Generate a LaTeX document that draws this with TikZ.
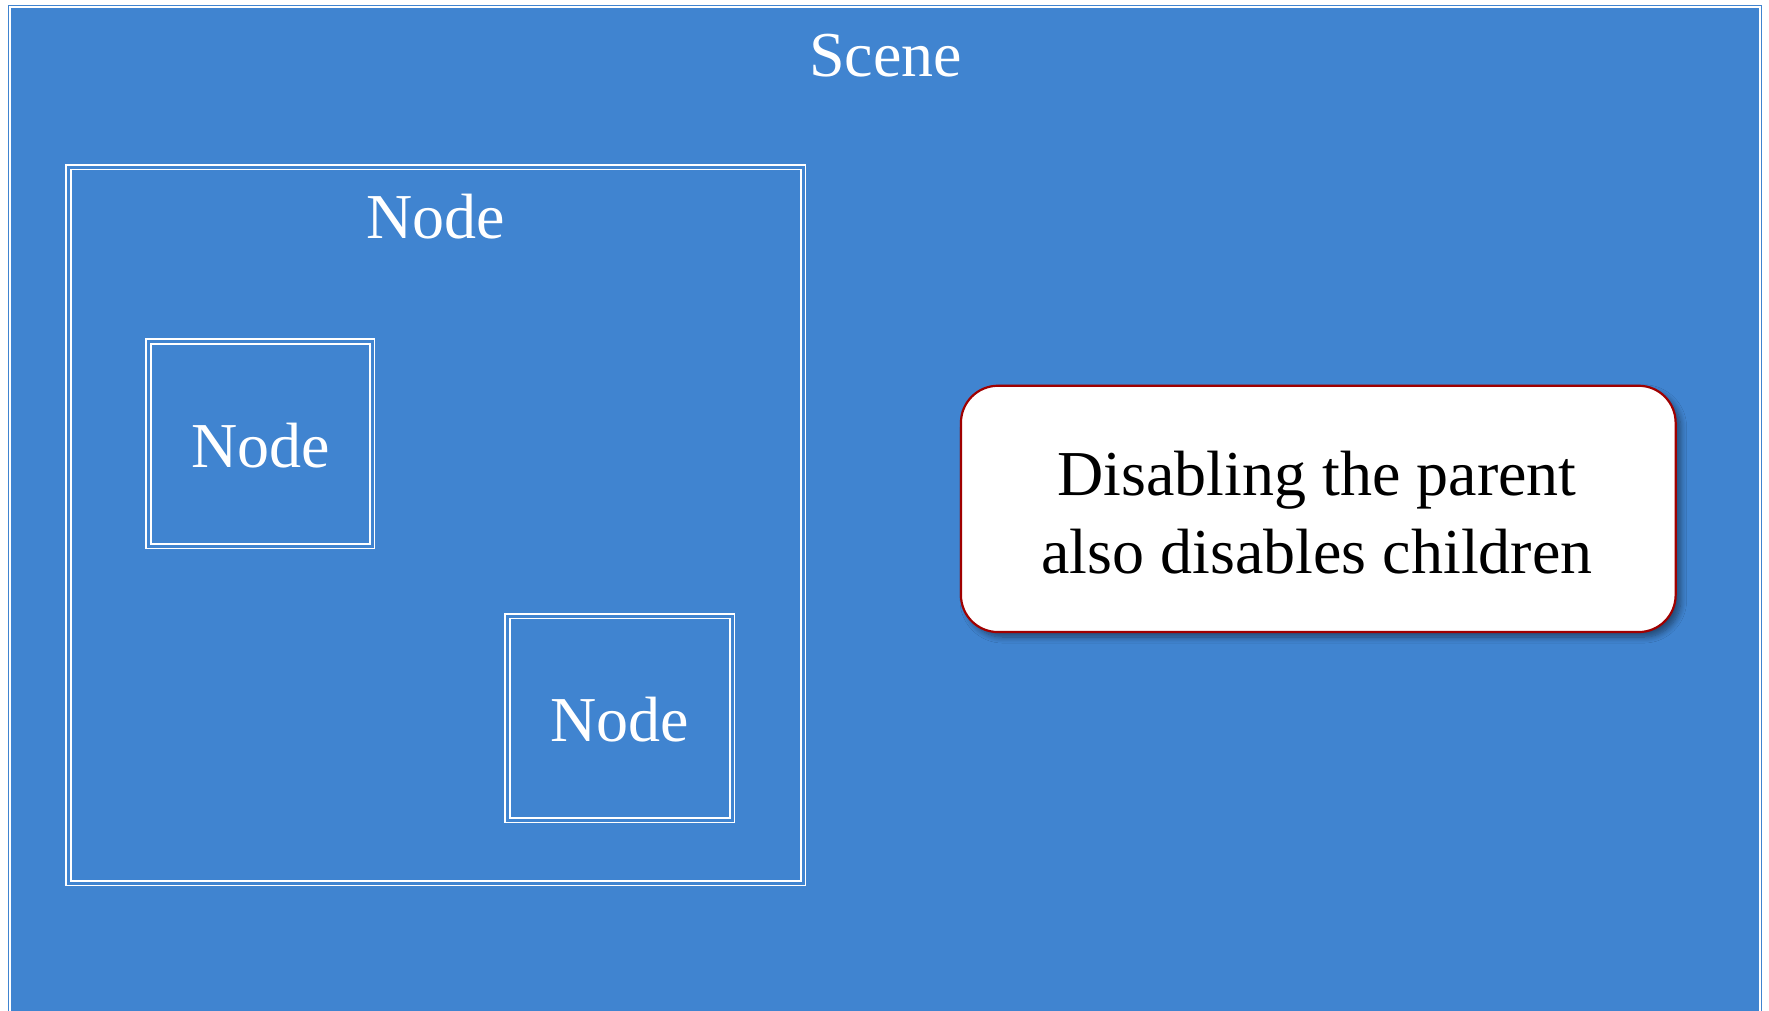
\documentclass[tikz,border=0pt]{standalone}
\usepackage{fontspec}
\setmainfont{Liberation Serif}
\usetikzlibrary{shadows.blur}
\definecolor{scenecol}{RGB}{64,132,208}
\definecolor{callred}{RGB}{160,0,0}
\tikzset{
  px/.style={x=0.5pt,y=-0.5pt},
  nodebox/.style={draw=white, double=scenecol, double distance=1.5pt, line width=0.8pt, inner sep=0pt, rectangle},
  whitelabel/.style={text=white, font=\fontsize{32}{39}\selectfont, inner sep=0pt, anchor=base},
  callout/.style={draw=callred, line width=1.1pt, fill=white, rounded corners=18.5pt, inner sep=0pt,
    blur shadow={shadow xshift=2.5pt, shadow yshift=-2.5pt, shadow blur steps=8, shadow opacity=45, shadow blur radius=3pt}},
  callouttext/.style={align=center, font=\fontsize{32}{39}\selectfont, inner sep=0pt},
}
\begin{document}
\begin{tikzpicture}[px]
\useasboundingbox (0,0) rectangle (1769,1011);
\clip (0,0) rectangle (1769,1011);
% scene
\fill[scenecol] (8,5) rectangle (1762,1040);
\draw[white, line width=1pt] (10,1040) |- (1760,7) -- (1760,1040);
\node[whitelabel] (scenelabel) at (885.5,76.5) {Scene};
% parent node
\node[nodebox, minimum width=367.25pt, minimum height=357.9pt] (parent) at (435.75,525.1) {};
\node[whitelabel] (parentlabel) at (435.5,239) {Node};
% child nodes
\node[nodebox, minimum width=111.9pt, minimum height=102.35pt] (childa) at (260.4,443.85) {};
\node[whitelabel] (childalabel) at (260.6,467) {Node};
\node[nodebox, minimum width=112.4pt, minimum height=102pt] (childb) at (619.9,718.3) {};
\node[whitelabel] (childblabel) at (619.5,741) {Node};
% callout
\node[callout, minimum width=357.35pt, minimum height=123.15pt] (note) at (1318.3,508.9) {};
\node[callouttext] (notetext) at (1317,513) {Disabling the parent\\also disables children};
\end{tikzpicture}
\end{document}
